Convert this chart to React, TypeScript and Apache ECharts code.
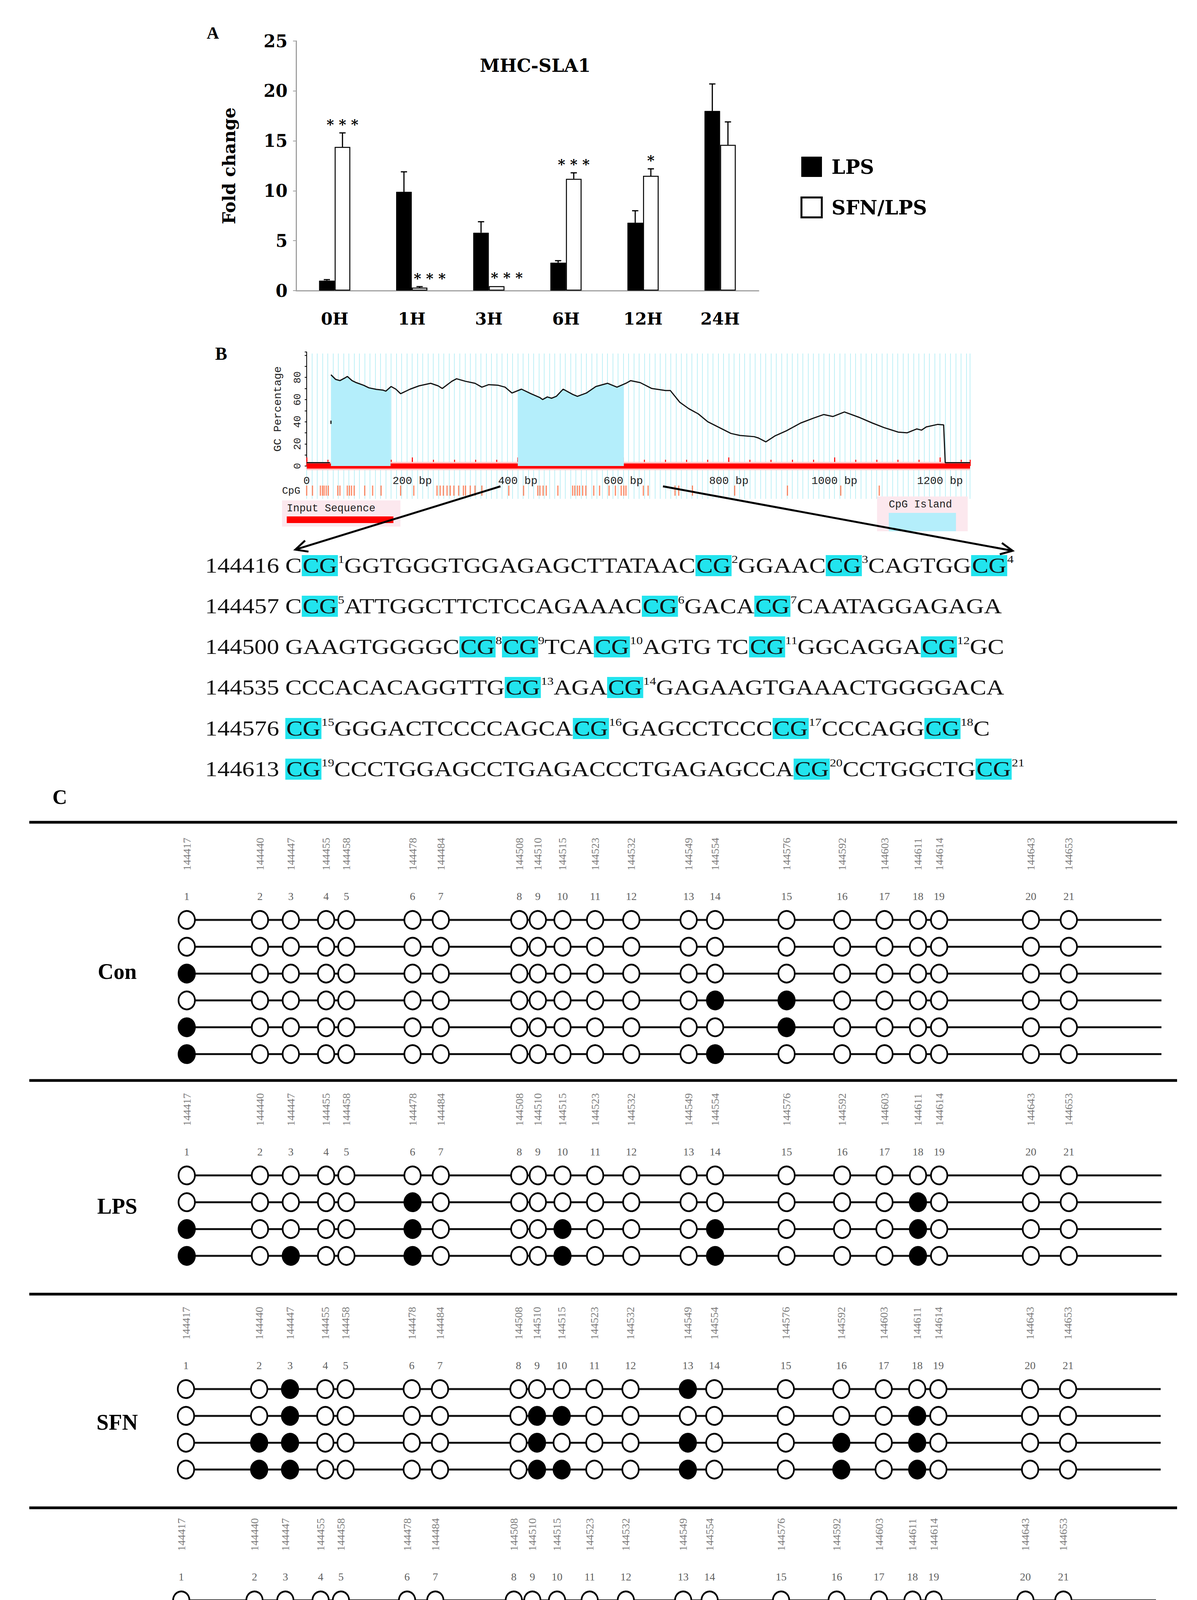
import React, { useEffect, useRef } from "react";
import * as echarts from "echarts";

// ---------- Panel A data ----------
const timePoints = ["0H", "1H", "3H", "6H", "12H", "24H"];
const lpsMean = [1.0, 9.9, 5.8, 2.8, 6.8, 18.0];
const lpsErr = [0.1, 2.0, 1.1, 0.2, 1.2, 2.7];
const sfnMean = [14.4, 0.3, 0.45, 11.2, 11.5, 14.6];
const sfnErr = [1.4, 0.1, 0.0, 0.6, 0.7, 2.3];
const sfnSig = ["* * *", "* * *", "* * *", "* * *", "*", ""];

// ---------- Panel B data ----------
const gcBp = [0, 44, 45, 46, 46, 46.5, 46, 55, 63, 72, 77, 86, 94, 108, 118, 132, 145, 150, 160, 169, 178, 196, 213, 235, 249, 257, 275, 284, 301, 319, 332, 345, 363, 376, 389, 407, 425, 442, 447, 456, 464, 473, 486, 504, 513, 530, 548, 570, 588, 605, 614, 632, 654, 680, 689, 707, 724, 742, 760, 782, 804, 821, 848, 856, 870, 887, 909, 936, 962, 980, 997, 1019, 1046, 1072, 1094, 1121, 1138, 1156, 1165, 1174, 1196, 1207, 1210, 1257];
const gcPct = [3, 3, null, 38, 41, null, 82.4, 78.2, 77.1, 79.4, 80.9, 77.1, 75.3, 72.9, 70.6, 69.2, 68.5, 67.6, 71.8, 69.4, 65.3, 69.4, 72.4, 74.7, 72.4, 70.0, 76.5, 78.8, 76.5, 74.7, 71.2, 73.5, 72.9, 71.2, 65.9, 69.4, 65.3, 61.8, 60.0, 62.4, 61.2, 62.9, 69.4, 64.7, 62.9, 65.9, 71.8, 74.7, 71.2, 74.7, 77.1, 75.3, 70.0, 68.2, 68.2, 57.6, 51.8, 47.1, 40.0, 34.7, 29.4, 27.6, 26.5, 25.3, 21.8, 27.1, 31.8, 38.8, 43.5, 46.5, 44.7, 48.8, 44.1, 38.8, 34.7, 30.6, 30.0, 33.5, 32.4, 35.3, 37.6, 37.1, 3, 3];
const islandRanges = [[46, 159], [400, 601]];
const islandEdgePct = [[82.4, 71.6], [68, 74]];
const cpgBp = [0, 11, 26, 30, 33, 37, 41, 59, 63, 77, 81, 85, 90, 110, 125, 141, 178, 203, 247, 253, 259, 266, 272, 279, 288, 297, 301, 310, 319, 332, 383, 411, 438, 442, 448, 454, 476, 504, 508, 513, 517, 523, 529, 544, 555, 573, 585, 596, 601, 605, 638, 647, 698, 705, 731, 811, 911, 1012, 1085];
const seqMaxBp = 1257;

const seqStart = [144416, 144457, 144500, 144535, 144576, 144613];
const seqBody = [
  "C{1}GGTGGGTGGAGAGCTTATAAC{2}GGAAC{3}CAGTGG{4}",
  "C{5}ATTGGCTTCTCCAGAAAC{6}GACA{7}CAATAGGAGAGA",
  "GAAGTGGGGC{8}{9}TCA{10}AGTG TC{11}GGCAGGA{12}GC",
  "CCCACACAGGTTG{13}AGA{14}GAGAAGTGAAACTGGGGACA",
  "{15}GGGACTCCCCAGCA{16}GAGCCTCCC{17}CCCAGG{18}C",
  "{19}CCCTGGAGCCTGAGACCCTGAGAGCCA{20}CCTGGCTG{21}",
];

// ---------- Panel C data ----------
const siteCoord = [144417, 144440, 144447, 144455, 144458, 144478, 144484, 144508, 144510, 144515, 144523, 144532, 144549, 144554, 144576, 144592, 144603, 144611, 144614, 144643, 144653];
const sitePos = [0, 83, 118, 158, 181, 256, 288, 377, 398, 426, 463, 504, 569, 599, 680, 743, 791, 829, 853, 957, 1000];
const trackEnd = 1105;
const groupNames = ["Con", "LPS", "SFN", "SFN+LPS"];
const conFilled = [[], [], [1], [14, 15], [1, 15], [1, 14]];
const lpsFilled = [[], [6, 18], [1, 6, 10, 14, 18], [1, 3, 6, 10, 14, 18]];
const sfnFilled = [[3, 13], [3, 9, 10, 18], [2, 3, 9, 13, 16, 18], [2, 3, 9, 10, 13, 16, 18]];
const sfnLpsFilled = [[], [6, 8], [2, 6, 8, 13], [2, 6, 8, 13], [1, 2, 6, 8, 13], [1, 3, 6, 7, 10, 12, 14, 18]];
const groupFilled = [conFilled, lpsFilled, sfnFilled, sfnLpsFilled];

const W = 3064;
const H = 4522;

function arrow(x1: number, y1: number, x2: number, y2: number) {
  const ang = Math.atan2(y2 - y1, x2 - x1);
  const L = 34;
  const a1 = ang + Math.PI - 0.45;
  const a2 = ang + Math.PI + 0.45;
  return [
    { type: "line", z: 20, shape: { x1, y1, x2, y2 }, style: { stroke: "#000", lineWidth: 5 } },
    {
      type: "polyline", z: 20,
      shape: { points: [[x2 + L * Math.cos(a1), y2 + L * Math.sin(a1)], [x2, y2], [x2 + L * Math.cos(a2), y2 + L * Math.sin(a2)]] },
      style: { stroke: "#000", lineWidth: 5, fill: "none" },
    },
  ];
}

function buildOption(): any {
  const serif = "Liberation Serif";
  const bold = "DejaVu Serif";
  const mono = "Liberation Mono";

  const grid: any[] = [
    { left: 758, top: 105, width: 1184, height: 639 }, // 0 panel A
    { left: 785, top: 905, width: 1698, height: 372 }, // 1 bg lines
    { left: 785, top: 901, width: 1698, height: 292 }, // 2 GC plot
    { left: 785, top: 1243, width: 1698, height: 26 }, // 3 CpG row
  ];
  const xAxis: any[] = [
    {
      gridIndex: 0, type: "category", data: timePoints,
      axisLine: { lineStyle: { color: "#a0a0a0", width: 3 } },
      axisTick: { show: false },
      axisLabel: { fontFamily: bold, fontWeight: "bold", fontSize: 43, color: "#000", margin: 50 },
    },
    {
      gridIndex: 1, type: "value", min: 0, max: seqMaxBp, interval: 10,
      axisLine: { show: false }, axisTick: { show: false }, axisLabel: { show: false },
      splitLine: { show: true, lineStyle: { color: "#bff0f6", width: 2 } },
    },
    {
      gridIndex: 2, type: "value", min: 0, max: seqMaxBp, interval: 200, position: "bottom",
      axisLine: { show: false },
      axisTick: { show: true, inside: true, length: 22, lineStyle: { color: "#ff0000", width: 2.5 } },
      axisLabel: { formatter: (v: number) => (v === 0 ? "0" : `${v} bp`), fontFamily: mono, fontSize: 28, color: "#222", margin: 24 },
      splitLine: { show: false },
    },
    {
      gridIndex: 2, type: "value", min: 0, max: seqMaxBp, interval: 40, position: "bottom",
      axisLine: { show: false },
      axisTick: { show: true, inside: true, length: 16, lineStyle: { color: "#ff0000", width: 2.5 } },
      axisLabel: { show: false }, splitLine: { show: false },
    },
    { gridIndex: 3, type: "value", min: 0, max: seqMaxBp, show: false },
  ];
  const yAxis: any[] = [
    {
      gridIndex: 0, type: "value", min: 0, max: 25, interval: 5,
      axisLine: { show: true, lineStyle: { color: "#a0a0a0", width: 3 } },
      axisTick: { show: true, length: 8, lineStyle: { color: "#a0a0a0", width: 2 } },
      splitLine: { show: false },
      axisLabel: { fontFamily: bold, fontWeight: "bold", fontSize: 44, color: "#000", margin: 22 },
      name: "Fold change", nameLocation: "middle", nameGap: 150, nameRotate: 90,
      nameTextStyle: { fontFamily: bold, fontWeight: "bold", fontSize: 44, color: "#000" },
    },
    { gridIndex: 1, type: "value", min: 0, max: 1, show: false },
    {
      gridIndex: 2, type: "value", min: 0, max: 103, interval: 10,
      axisLine: { show: true, lineStyle: { color: "#000", width: 2 } },
      axisTick: { show: true, length: 5, lineStyle: { color: "#000", width: 2 } },
      splitLine: { show: false },
      axisLabel: {
        rotate: 90, margin: 10, fontFamily: mono, fontSize: 26, color: "#222",
        formatter: (v: number) => (v % 20 === 0 && v < 100 ? String(v) : ""),
      },
      name: "GC Percentage", nameLocation: "middle", nameGap: 60, nameRotate: 90,
      nameTextStyle: { fontFamily: mono, fontSize: 28, color: "#222" },
    },
    { gridIndex: 3, type: "value", min: 0, max: 1, show: false },
  ];

  const series: any[] = [];

  // ----- Panel A bars -----
  series.push({
    name: "LPS", type: "bar", xAxisIndex: 0, yAxisIndex: 0, data: lpsMean,
    barWidth: 40, barGap: "0%", itemStyle: { color: "#000", borderColor: "#000", borderWidth: 1 },
  });
  series.push({
    name: "SFN/LPS", type: "bar", xAxisIndex: 0, yAxisIndex: 0, data: sfnMean,
    barWidth: 40, barGap: "0%", itemStyle: { color: "#fff", borderColor: "#000", borderWidth: 2.5 },
  });
  const errSeries = (mean: number[], err: number[], dx: number) => ({
    type: "custom", xAxisIndex: 0, yAxisIndex: 0, z: 5, silent: true,
    data: mean.map((m, i) => [i, m, err[i]]),
    renderItem: (_p: any, api: any) => {
      const i = api.value(0);
      const m = api.value(1);
      const e = api.value(2);
      if (!e) return { type: "group", children: [] };
      const b = api.coord([i, m]);
      const t = api.coord([i, m + e]);
      const x = b[0] + dx;
      return {
        type: "group",
        children: [
          { type: "line", shape: { x1: x, y1: b[1], x2: x, y2: t[1] }, style: { stroke: "#000", lineWidth: 3 } },
          { type: "line", shape: { x1: x - 8, y1: t[1], x2: x + 8, y2: t[1] }, style: { stroke: "#000", lineWidth: 3 } },
        ],
      };
    },
  });
  series.push(errSeries(lpsMean, lpsErr, -20));
  series.push(errSeries(sfnMean, sfnErr, 20));
  series.push({
    type: "custom", xAxisIndex: 0, yAxisIndex: 0, z: 6, silent: true,
    data: sfnMean.map((m, i) => [i, m + sfnErr[i], m]),
    renderItem: (p: any, api: any) => {
      const txt = sfnSig[p.dataIndex];
      if (!txt) return { type: "group", children: [] };
      const pt = api.coord([api.value(0), api.value(1)]);
      const dx = api.value(2) < 1 ? 46 : 20;
      return {
        type: "text", x: pt[0] + dx, y: pt[1] - 22,
        style: { text: txt, fontFamily: bold, fontWeight: "bold", fontSize: 36, fill: "#000", align: "center", verticalAlign: "middle" },
      };
    },
  });

  // ----- Panel B GC plot -----
  const gcData = gcBp.map((b, i) => [b, gcPct[i] === null ? "-" : gcPct[i]]);
  islandRanges.forEach(([s, e], k) => {
    const pts: any[] = [[s, islandEdgePct[k][0]]];
    gcBp.forEach((b, i) => {
      if (b > s && b < e && gcPct[i] !== null) pts.push([b, gcPct[i]]);
    });
    pts.push([e, islandEdgePct[k][1]]);
    series.push({
      type: "line", xAxisIndex: 2, yAxisIndex: 2, data: pts, symbol: "none", silent: true, z: 2,
      lineStyle: { width: 0 }, areaStyle: { color: "#b4eefb", opacity: 1 },
    });
  });
  series.push({
    type: "line", xAxisIndex: 2, yAxisIndex: 2, data: [[0, 0], [seqMaxBp, 0]], symbol: "none", silent: true,
    clip: false, z: 1, lineStyle: { color: "#ffc4c4", width: 21 },
  });
  series.push({
    type: "line", xAxisIndex: 2, yAxisIndex: 2, data: [[0, 0], [seqMaxBp, 0]], symbol: "none", silent: true,
    clip: false, z: 1, lineStyle: { color: "#ff0000", width: 13 },
  });
  series.push({
    type: "line", xAxisIndex: 2, yAxisIndex: 2, data: gcData, symbol: "none", silent: true,
    connectNulls: false, z: 5, lineStyle: { color: "#111", width: 3 },
  });
  series.push({
    type: "scatter", xAxisIndex: 4, yAxisIndex: 3, data: cpgBp.map((b) => [b, 0.5]), silent: true,
    symbol: "rect", symbolSize: [3, 26], itemStyle: { color: "#ff6a3d" },
  });

  // ----- Panel C -----
  const blockTop = [2355, 3009, 3556, 4097];
  const blockLeft = [478, 478, 476, 464];
  const rowGap = 68.7;
  const blockWidth = 2495;
  groupFilled.forEach((rows, b) => {
    const n = rows.length;
    grid.push({ left: blockLeft[b], top: blockTop[b], width: blockWidth, height: (n - 1) * rowGap });
    const gi = grid.length - 1;
    xAxis.push({ gridIndex: gi, type: "value", min: 0, max: trackEnd, show: false });
    yAxis.push({ gridIndex: gi, type: "value", min: 0, max: n - 1, inverse: true, show: false });
    const xi = xAxis.length - 1;
    const yi = yAxis.length - 1;
    rows.forEach((_f, r) => {
      series.push({
        type: "line", xAxisIndex: xi, yAxisIndex: yi, data: [[0, r], [trackEnd, r]], symbol: "none",
        silent: true, z: 2, clip: false, lineStyle: { color: "#111", width: 5 },
      });
    });
    const open: number[][] = [];
    const filled: number[][] = [];
    rows.forEach((f, r) => {
      sitePos.forEach((p, s) => {
        (f.includes(s + 1) ? filled : open).push([p, r]);
      });
    });
    series.push({
      type: "scatter", xAxisIndex: xi, yAxisIndex: yi, data: open, symbol: "circle", symbolSize: [42, 46],
      silent: true, clip: false, z: 3, itemStyle: { color: "#fff", borderColor: "#000", borderWidth: 4.5, opacity: 1 },
    });
    series.push({
      type: "scatter", xAxisIndex: xi, yAxisIndex: yi, data: filled, symbol: "circle", symbolSize: [42, 46],
      silent: true, clip: false, z: 3, itemStyle: { color: "#000", borderColor: "#000", borderWidth: 4.5, opacity: 1 },
    });
    series.push({
      type: "scatter", xAxisIndex: xi, yAxisIndex: yi, data: sitePos.map((p) => [p, 0]), symbolSize: 1,
      silent: true, clip: false, z: 4, itemStyle: { color: "rgba(0,0,0,0)" },
      label: {
        show: true, position: "top", distance: 46, formatter: (p: any) => String(p.dataIndex + 1),
        fontFamily: serif, fontSize: 28, color: "#333",
      },
    });
    series.push({
      type: "scatter", xAxisIndex: xi, yAxisIndex: yi, data: sitePos.map((p) => [p, 0]), symbolSize: 1,
      silent: true, clip: false, z: 4, itemStyle: { color: "rgba(0,0,0,0)" },
      label: {
        show: true, position: "top", distance: 126, rotate: 90, align: "left", verticalAlign: "middle",
        formatter: (p: any) => String(siteCoord[p.dataIndex]),
        fontFamily: serif, fontSize: 28, color: "#555",
      },
    });
  });

  // ----- graphic elements -----
  const graphic: any[] = [];
  const txt = (text: string, x: number, y: number, font: any, extra: any = {}) => ({
    type: "text", x, y, z: 20,
    style: { text, fill: "#000", align: "center", verticalAlign: "middle", ...font, ...extra },
  });
  graphic.push(txt("A", 545, 84, { fontFamily: serif, fontWeight: "bold", fontSize: 44 }));
  graphic.push(txt("B", 566, 905, { fontFamily: serif, fontWeight: "bold", fontSize: 46 }));
  graphic.push(txt("C", 153, 2040, { fontFamily: serif, fontWeight: "bold", fontSize: 52 }));
  graphic.push(txt("MHC-SLA1", 1370, 168, { fontFamily: bold, fontWeight: "bold", fontSize: 46 }));

  // Panel B legend boxes
  graphic.push({ type: "rect", z: 1, shape: { x: 722, y: 1281, width: 303, height: 67 }, style: { fill: "#fce8ee" } });
  graphic.push(txt("Input Sequence", 734, 1302, { fontFamily: mono, fontSize: 27, fill: "#222" }, { align: "left" }));
  graphic.push({ type: "rect", z: 2, shape: { x: 734, y: 1322, width: 273, height: 17 }, style: { fill: "#ff0000" } });
  graphic.push({ type: "rect", z: 1, shape: { x: 2245, y: 1271, width: 232, height: 89 }, style: { fill: "#fce8ee" } });
  graphic.push(txt("CpG Island", 2275, 1292, { fontFamily: mono, fontSize: 27, fill: "#222" }, { align: "left" }));
  graphic.push({ type: "rect", z: 2, shape: { x: 2275, y: 1313, width: 172, height: 47 }, style: { fill: "#b4eefb" } });
  graphic.push(txt("CpG", 722, 1257, { fontFamily: mono, fontSize: 26, fill: "#222" }, { align: "left" }));
  graphic.push(...arrow(1281, 1245, 756, 1407));
  graphic.push(...arrow(1697, 1245, 2592, 1410));

  // Sequence lines
  const lineY = [1448, 1552, 1656, 1760, 1865, 1969];
  seqBody.forEach((body, i) => {
    const t = `${seqStart[i]} ` + body.replace(/\{(\d+)\}/g, "{cg|CG}{sup|$1}");
    graphic.push({
      type: "text", x: 525, y: lineY[i], scaleX: 1.17, z: 20,
      style: {
        text: t, fontFamily: serif, fontSize: 54, fill: "#111", align: "left", verticalAlign: "middle",
        rich: {
          cg: { backgroundColor: "#22e4ee", fontFamily: serif, fontSize: 54, fill: "#111", lineHeight: 61, padding: [0, 2] },
          sup: { fontFamily: serif, fontSize: 28, fill: "#111", verticalAlign: "top", lineHeight: 30 },
        },
      },
    });
  });

  // Panel C separators + labels
  [2105, 2766, 3313, 3860].forEach((y) => {
    graphic.push({ type: "line", z: 20, shape: { x1: 75, y1: y, x2: 3013, y2: y }, style: { stroke: "#000", lineWidth: 7 } });
  });
  const labelPos = [[300, 2487], [300, 3088], [300, 3641], [219, 4219]];
  groupNames.forEach((g, i) => {
    graphic.push(txt(g, labelPos[i][0], labelPos[i][1], { fontFamily: serif, fontWeight: "bold", fontSize: 56 }));
  });

  return {
    animation: false,
    backgroundColor: "#fff",
    grid,
    xAxis,
    yAxis,
    series,
    graphic,
    legend: {
      show: true, orient: "vertical", left: 2044, top: 396, itemWidth: 52, itemHeight: 51, itemGap: 50,
      selectedMode: false, icon: "rect",
      data: [
        { name: "LPS", itemStyle: { color: "#000", borderColor: "#000", borderWidth: 1 } },
        { name: "SFN/LPS", itemStyle: { color: "#fff", borderColor: "#000", borderWidth: 5 } },
      ],
      textStyle: { fontFamily: bold, fontWeight: "bold", fontSize: 50, color: "#000", padding: [0, 0, 0, 20] },
    },
  };
}

export default function App() {
  const ref = useRef<HTMLDivElement>(null);
  useEffect(() => {
    if (!ref.current) return;
    document.body.style.margin = "0";
    const chart = echarts.init(ref.current, null, { renderer: "svg", width: W, height: H });
    chart.setOption(buildOption());
    return () => chart.dispose();
  }, []);
  return <div ref={ref} style={{ width: W, height: H, background: "#fff" }} />;
}
